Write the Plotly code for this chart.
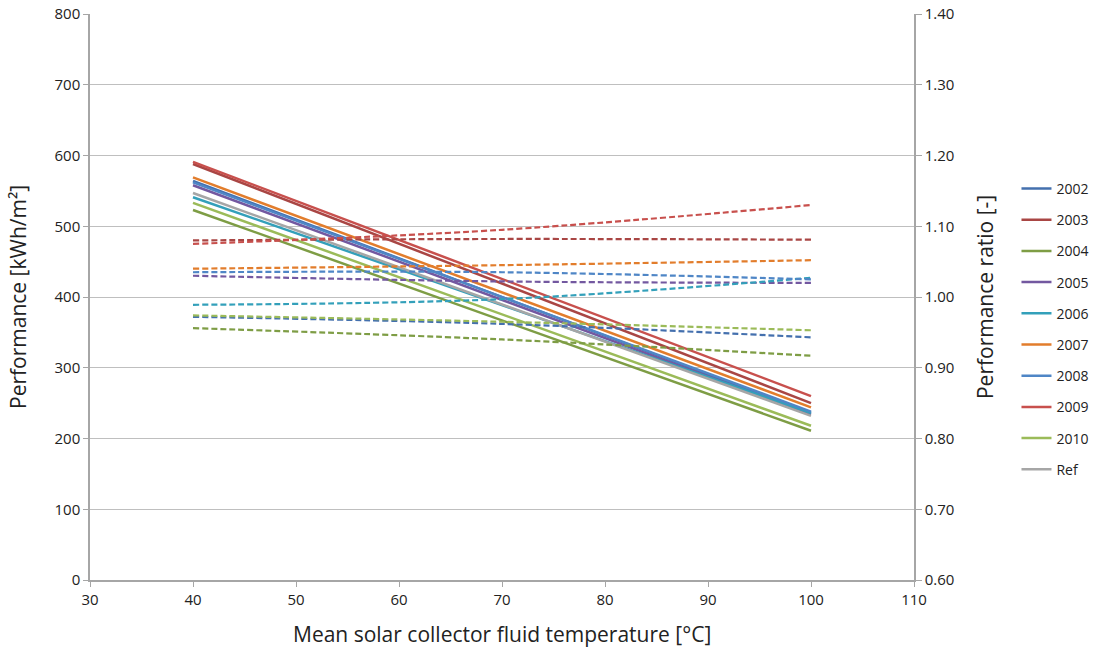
import plotly.graph_objects as go

# Data
years = ["2002", "2003", "2004", "2005", "2006", "2007", "2008", "2009", "2010", "Ref"]
colors = ["#4470AE", "#A94644", "#7E9D45", "#7358A0", "#33A0BA", "#E27D2C",
          "#4F86C6", "#C8504D", "#9BBB59", "#A6A6A6"]

temp_perf = [40, 100]
perf = {
    "2002": [564, 236],
    "2003": [588, 250],
    "2004": [523, 211],
    "2005": [558, 234],
    "2006": [541, 236],
    "2007": [569, 244],
    "2008": [562, 238],
    "2009": [591, 260],
    "2010": [533, 218],
    "Ref":  [547, 232],
}

temp_ratio = [40, 70, 100]
ratio = {
    "2002": [0.972, 0.962, 0.943],
    "2003": [1.080, 1.082, 1.081],
    "2004": [0.956, 0.940, 0.917],
    "2005": [1.030, 1.022, 1.020],
    "2006": [0.989, 0.997, 1.027],
    "2007": [1.040, 1.045, 1.052],
    "2008": [1.035, 1.035, 1.025],
    "2009": [1.075, 1.095, 1.130],
    "2010": [0.974, 0.965, 0.953],
}

x_title = "Mean solar collector fluid temperature [°C]"
y_title = "Performance [kWh/m²]"
y2_title = "Performance ratio [-]"

fig = go.Figure()

for i, y in enumerate(years):
    fig.add_trace(go.Scatter(
        x=temp_perf, y=perf[y], mode="lines", name=y,
        line=dict(color=colors[i], width=2.5),
        legendgroup=y, yaxis="y",
    ))

for i, y in enumerate(years):
    if y in ratio:
        fig.add_trace(go.Scatter(
            x=temp_ratio, y=ratio[y], mode="lines", name=y + " ratio",
            line=dict(color=colors[i], width=2.2, dash="6px,3px", shape="spline"),
            showlegend=False, legendgroup=y, yaxis="y2",
        ))

font_family = "Open Sans, Liberation Sans, sans-serif"

fig.update_layout(
    width=1097, height=650,
    margin=dict(l=90, r=183, t=14, b=70, autoexpand=False),
    paper_bgcolor="white", plot_bgcolor="white",
    font=dict(family=font_family, size=15, color="#222222"),
    xaxis=dict(
        range=[30, 110], tickvals=[30, 40, 50, 60, 70, 80, 90, 100, 110],
        showgrid=False, zeroline=False, automargin=False,
        showline=True, linecolor="#A6A6A6", linewidth=1.5,
        ticks="outside", ticklen=5, tickcolor="#A6A6A6",
        tickfont=dict(size=15),
    ),
    yaxis=dict(
        range=[0, 800], tickvals=[0, 100, 200, 300, 400, 500, 600, 700, 800],
        showgrid=True, gridcolor="#BFBFBF", gridwidth=1, zeroline=False,
        automargin=False,
        showline=True, linecolor="#A6A6A6", linewidth=1.5,
        ticks="outside", ticklen=5, tickcolor="#A6A6A6",
        tickfont=dict(size=15),
    ),
    yaxis2=dict(
        range=[0.6, 1.4], tickvals=[0.6, 0.7, 0.8, 0.9, 1.0, 1.1, 1.2, 1.3, 1.4],
        tickformat=".2f", overlaying="y", side="right",
        showgrid=False, zeroline=False, automargin=False,
        showline=True, linecolor="#A6A6A6", linewidth=1.5,
        ticks="outside", ticklen=6, tickcolor="#A6A6A6",
        tickfont=dict(size=15),
    ),
    legend=dict(
        xref="container", yref="container",
        x=0.9266, xanchor="left", y=0.734, yanchor="top",
        traceorder="grouped", tracegroupgap=10,
        font=dict(size=14), bgcolor="rgba(0,0,0,0)",
        itemwidth=30,
    ),
    showlegend=True,
    annotations=[
        dict(text=x_title, xref="paper", yref="paper", x=0.5, y=-0.0954,
             xanchor="center", yanchor="middle", showarrow=False,
             font=dict(size=21)),
        dict(text=y_title, xref="paper", yref="paper", x=-0.0874, y=0.5,
             xanchor="center", yanchor="middle", showarrow=False,
             textangle=-90, font=dict(size=21)),
        dict(text=y2_title, xref="paper", yref="paper", x=1.0862, y=0.5,
             xanchor="center", yanchor="middle", showarrow=False,
             textangle=-90, font=dict(size=21)),
    ],
)

fig.write_html("out.html")
